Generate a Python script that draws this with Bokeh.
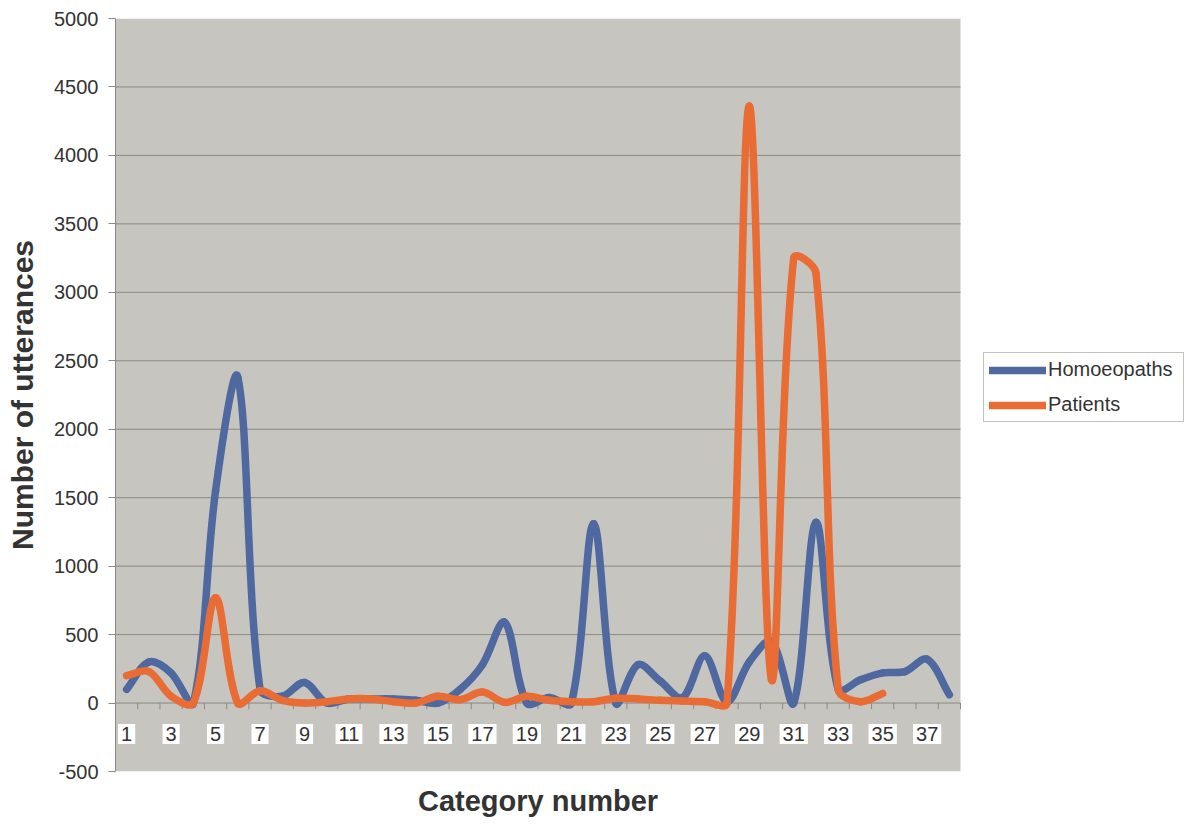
import math
from bokeh.plotting import figure
from bokeh.models import Range1d, FixedTicker, Legend, LegendItem, BoxAnnotation, Title
from bokeh.core.properties import value
from bokeh.embed import file_html
from bokeh.resources import INLINE

# ---------------- data ----------------
categories = list(range(1, 39))
homoeopaths = [100, 300, 220, 0, 1550, 2380, 100, 50, 150, 0,
               30, 30, 30, 20, 0, 100, 280, 590, 0, 40,
               0, 1310, 0, 280, 160, 40, 345, 10, 300, 450,
               0, 1320, 100, 170, 220, 230, 320, 60]
patients = [200, 230, 50, 0, 770, 0, 90, 20, 0, 10,
            30, 30, 10, 0, 50, 25, 80, 5, 50, 20,
            10, 10, 35, 30, 20, 15, 10, 0, 4360, 170,
            3250, 3140, 100, 10, 70]
x_tick_labels = [str(c) for c in categories if c % 2 == 1]
y_ticks = list(range(-500, 5001, 500))

BLUE = "#4f68a0"
ORANGE = "#e96c34"
BG = "#c6c5c0"
GRID = "#8a8a82"
TEXT = "#333333"
FONT = "Liberation Sans"

W, H = 1192, 827
LEFT, TOP, BOTTOM = 115, 18, 57
AREA_W = 845                       # width of the grey plot area
X0, X1 = 0.5, 38.5                 # category extent of the grey plot area
Y0, Y1 = -500, 5000
SX = AREA_W / (X1 - X0)            # px per category
SY = (H - TOP - BOTTOM) / (Y1 - Y0)  # px per utterance
X_END = X0 + (W - LEFT) / SX       # frame extends to the right edge (legend area)


def smooth_segments(xs, ys):
    """Bezier control points of an Excel-style smoothed line through the data
    (tangent from neighbours, control lengths weighted by on-screen segment lengths)."""
    n = len(xs)
    px = [x * SX for x in xs]
    py = [y * SY for y in ys]

    def dist(a, b):
        return math.hypot(px[b] - px[a], py[b] - py[a])

    out_c, in_c = [], []
    for i in range(n):
        a = max(i - 1, 0)
        b = min(i + 1, n - 1)
        tx, ty = px[b] - px[a], py[b] - py[a]
        d0 = dist(a, i)
        d1 = dist(i, b)
        tot = d0 + d1 if d0 + d1 > 0 else 1.0
        in_c.append((px[i] - tx * d0 / tot / 3.0, py[i] - ty * d0 / tot / 3.0))
        out_c.append((px[i] + tx * d1 / tot / 3.0, py[i] + ty * d1 / tot / 3.0))
    seg = dict(x0=[], y0=[], x1=[], y1=[], cx0=[], cy0=[], cx1=[], cy1=[])
    for i in range(n - 1):
        seg["x0"].append(xs[i]); seg["y0"].append(ys[i])
        seg["x1"].append(xs[i + 1]); seg["y1"].append(ys[i + 1])
        seg["cx0"].append(out_c[i][0] / SX); seg["cy0"].append(out_c[i][1] / SY)
        seg["cx1"].append(in_c[i + 1][0] / SX); seg["cy1"].append(in_c[i + 1][1] / SY)
    return seg


p = figure(width=W, height=H, output_backend="svg", toolbar_location=None,
           x_range=Range1d(X0, X_END), y_range=Range1d(Y0, Y1),
           min_border_left=LEFT, min_border_right=0, min_border_top=TOP, min_border_bottom=0,
           background_fill_color="white", border_fill_color="white", outline_line_color=None)

# grey plot area
p.add_layout(BoxAnnotation(left=X0, right=X1, bottom=Y0, top=Y1,
                           fill_color=BG, fill_alpha=1.0, line_color=None, level="underlay"))

# horizontal gridlines limited to the plot area
p.xgrid.visible = False
p.ygrid.visible = False
grid_vals = [t for t in y_ticks if Y0 < t < Y1]
p.segment(x0=[X0] * len(grid_vals), y0=grid_vals, x1=[X1] * len(grid_vals), y1=grid_vals,
          line_color=GRID, line_width=1)

# y axis
p.yaxis.ticker = FixedTicker(ticks=y_ticks)
p.yaxis.major_label_overrides = {t: str(t) for t in y_ticks}
p.yaxis.axis_line_color = GRID
p.yaxis.major_tick_line_color = GRID
p.yaxis.major_tick_out = 7
p.yaxis.major_tick_in = 0
p.yaxis.minor_tick_line_color = None
p.yaxis.major_label_text_font = FONT
p.yaxis.major_label_text_font_size = "20px"
p.yaxis.major_label_text_color = TEXT
p.yaxis.major_label_standoff = 10
p.yaxis.axis_label = "Number of utterances"
p.yaxis.axis_label_text_font = FONT
p.yaxis.axis_label_text_font_size = "30px"
p.yaxis.axis_label_text_font_style = "bold"
p.yaxis.axis_label_text_color = TEXT
p.yaxis.axis_label_standoff = 12

# x axis title below the grey area (title panel, shifted to the grey area's centre)
p.xaxis.visible = False
xtitle = Title(text="Category number", align="left",
               offset=AREA_W / 2 - 120, standoff=22,
               text_font=FONT, text_font_size="29px", text_font_style="bold",
               text_color=TEXT)
p.add_layout(xtitle, "below")

# category axis drawn at zero: ticks between categories and boxed labels
bounds = [c - 0.5 for c in categories] + [categories[-1] + 0.5]
p.segment(x0=bounds, y0=[0] * len(bounds), x1=bounds, y1=[-45] * len(bounds),
          line_color=GRID, line_width=1)
odd_cats = [c for c in categories if c % 2 == 1]
p.text(x=odd_cats, y=[-226] * len(odd_cats), text=x_tick_labels,
       text_align="center", text_baseline="middle",
       text_font=value(FONT), text_font_size="20px", text_color=TEXT,
       background_fill_color="white", padding=3)

# series (smoothed lines)
hs = smooth_segments(categories, homoeopaths)
r_h = p.bezier(line_color=BLUE, line_width=7.5, line_cap="round", **hs)
ps = smooth_segments(categories[:len(patients)], patients)
r_p = p.bezier(line_color=ORANGE, line_width=7.5, line_cap="round", **ps)

# legend (to the right of the grey area)
legend = Legend(items=[LegendItem(label="Homoeopaths", renderers=[r_h]),
                       LegendItem(label="Patients", renderers=[r_p])],
                location=(983 - LEFT, 349), orientation="vertical",
                glyph_width=57, glyph_height=20, label_height=20, label_width=130,
                spacing=12, padding=5, margin=0, label_standoff=2,
                label_text_font=FONT, label_text_font_size="20px", label_text_color=TEXT,
                border_line_color="#888888", border_line_width=1,
                background_fill_color="white", background_fill_alpha=1.0)
p.add_layout(legend, "center")

open("out.html", "w").write(file_html(p, INLINE))
